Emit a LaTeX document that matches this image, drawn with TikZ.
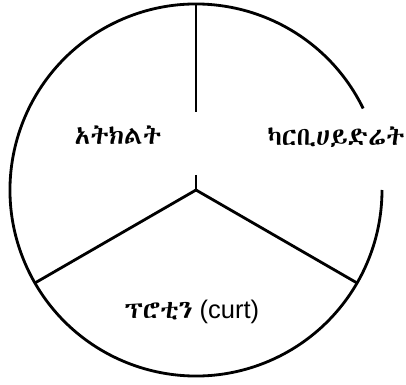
\documentclass[tikz,border=0pt]{standalone}
\usepackage{fontspec}
\setmainfont{Liberation Sans}
\IfFontExistsTF{Abyssinica SIL}{\newfontfamily\ethfont{Abyssinica SIL}}{%
  \IfFontExistsTF{FreeSans}{\newfontfamily\ethfont{FreeSans}}{%
    \IfFontExistsTF{FreeSerif}{\newfontfamily\ethfont{FreeSerif}}{%
      \newcommand\ethfont{}}}}
\usetikzlibrary{positioning}

\begin{document}
\begin{tikzpicture}[x=0.02cm, y=-0.02cm,
  rim/.style={line width=1.6pt, black},
  label/.style={font=\fontsize{14.5}{17}\selectfont, inner sep=0pt}]
  \useasboundingbox (0,0) rectangle (406,385);

  %% Circle, open behind the right label
  \draw[rim] (196,190) ++(26:186 and -186) arc[start angle=26, end angle=360, x radius=186, y radius=-186];

  %% Dividers
  \coordinate (mid) at (196,190);
  \draw[rim] (196,4) -- (196,112);
  \draw[rim] (196,175) -- (mid);
  \draw[rim] (mid) -- ++(210:186 and -186);
  \draw[rim] (mid) -- ++(330:186 and -186);

  %% Labels
  \node[label] (veg)  at (118,135) {\ethfont አትክልት};
  \node[label] (carb) at (336,137) {\ethfont ካርቢሀይድሬት};
  \node[label] (prot) at (192,312) {{\ethfont ፕሮቲን} (curt)};
\end{tikzpicture}
\end{document}
